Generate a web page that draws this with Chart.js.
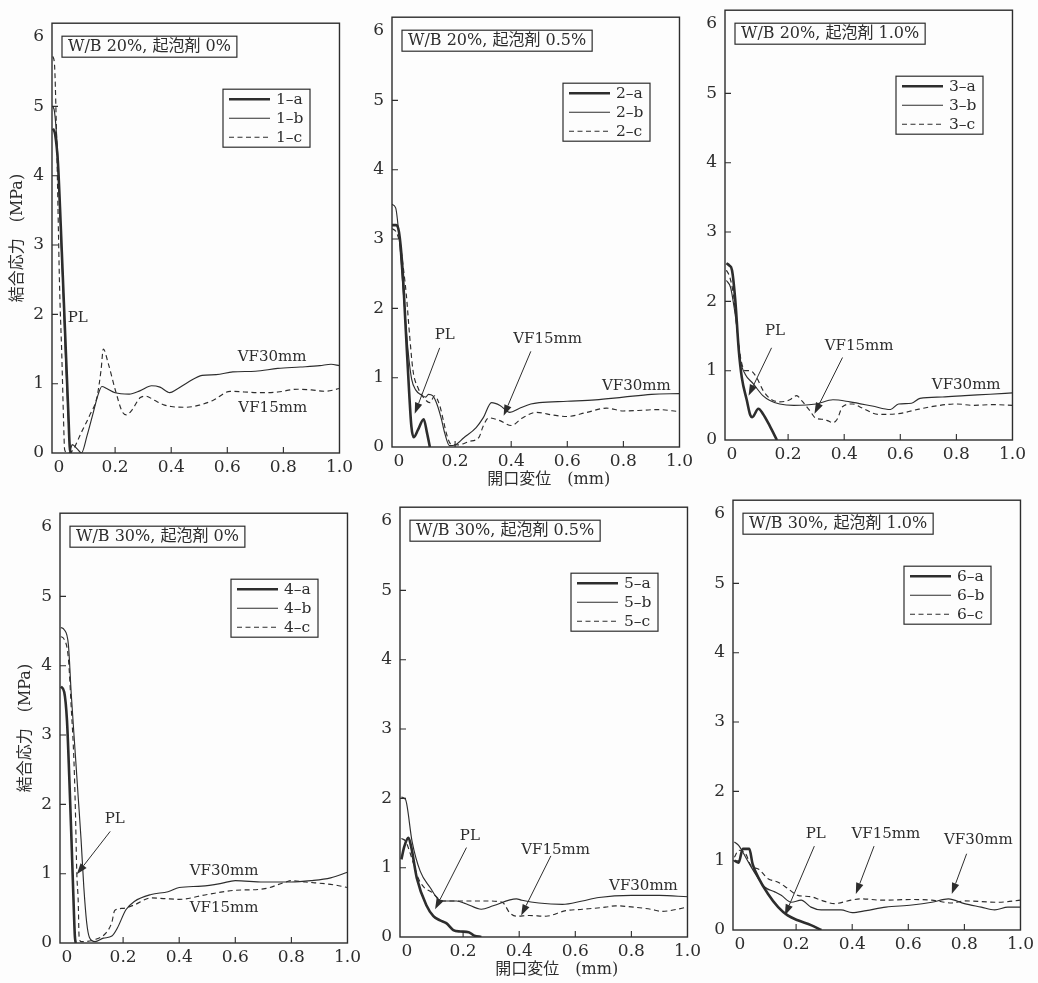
<!DOCTYPE html>
<html>
<head>
<meta charset="utf-8">
<script src="https://cdn.jsdelivr.net/npm/chart.js@4.4.1/dist/chart.umd.min.js"></script>
<style>
  body { margin: 0; background: #fdfdfd; width: 1038px; height: 983px; position: relative; overflow: hidden; }
  canvas { position: absolute; }
</style>
</head>
<body>
<script>
// ---- data ----
const xTicks = [0, 0.2, 0.4, 0.6, 0.8, 1.0];
const xTickLabels = ["0", "0.2", "0.4", "0.6", "0.8", "1.0"];
const yTicks = [0, 1, 2, 3, 4, 5, 6];
const yTickLabels = ["0", "1", "2", "3", "4", "5", "6"];

const yTitle = "結合応力　(MPa)";
const xTitle = "開口変位　(mm)";

const panelTitles = [
    "W/B 20%, 起泡剤 0%",
    "W/B 20%, 起泡剤 0.5%",
    "W/B 20%, 起泡剤 1.0%",
    "W/B 30%, 起泡剤 0%",
    "W/B 30%, 起泡剤 0.5%",
    "W/B 30%, 起泡剤 1.0%"
];

const seriesNames = [
    ["1–a", "1–b", "1–c"],
    ["2–a", "2–b", "2–c"],
    ["3–a", "3–b", "3–c"],
    ["4–a", "4–b", "4–c"],
    ["5–a", "5–b", "5–c"],
    ["6–a", "6–b", "6–c"]
];

// [opening displacement mm, bond stress MPa]
const s1a = [[-0.022,4.68],[-0.014,4.6],[-0.004,4.2],[0.006,3.3],[0.016,2.3],[0.026,1.3],[0.033,0.6],[0.038,0.1],[0.042,0]];
const s1b = [[-0.022,5.0],[-0.016,4.92],[-0.006,4.4],[0.004,3.4],[0.014,2.4],[0.024,1.3],[0.032,0.6],[0.04,0.05],[0.047,0.12],[0.065,0.06],[0.08,0.0],[0.1,0.25],[0.12,0.55],[0.14,0.85],[0.153,0.96],[0.17,0.93],[0.2,0.87],[0.25,0.85],[0.29,0.9],[0.33,0.97],[0.36,0.95],[0.395,0.87],[0.42,0.92],[0.46,1.02],[0.51,1.12],[0.56,1.13],[0.62,1.17],[0.7,1.18],[0.78,1.22],[0.86,1.24],[0.93,1.26],[0.97,1.28],[1.0,1.26]];
const s1c = [[-0.022,5.72],[-0.016,5.6],[-0.01,4.8],[-0.004,3.6],[0.002,2.4],[0.01,1.4],[0.016,0.5],[0.02,0.05],[0.03,0],[0.045,0.02],[0.08,0.3],[0.11,0.55],[0.135,0.8],[0.15,1.2],[0.158,1.5],[0.175,1.3],[0.2,0.92],[0.225,0.6],[0.24,0.55],[0.26,0.62],[0.29,0.8],[0.31,0.82],[0.34,0.76],[0.37,0.7],[0.4,0.67],[0.45,0.66],[0.5,0.69],[0.55,0.76],[0.61,0.89],[0.66,0.88],[0.72,0.87],[0.78,0.88],[0.85,0.92],[0.9,0.91],[0.95,0.89],[1.0,0.93]];

const s2a = [[-0.025,3.2],[-0.01,3.2],[0.0,3.1],[0.012,2.6],[0.024,1.7],[0.036,0.8],[0.044,0.3],[0.052,0.14],[0.068,0.25],[0.088,0.4],[0.1,0.2],[0.11,0]];
const s2b = [[-0.025,3.5],[-0.012,3.45],[0.0,3.05],[0.01,2.5],[0.02,2.0],[0.032,1.4],[0.045,0.98],[0.06,0.82],[0.08,0.75],[0.095,0.72],[0.105,0.76],[0.12,0.74],[0.135,0.62],[0.15,0.42],[0.163,0.2],[0.18,0.02],[0.2,0.03],[0.23,0.13],[0.275,0.28],[0.3,0.42],[0.33,0.64],[0.36,0.6],[0.395,0.5],[0.43,0.56],[0.47,0.62],[0.5,0.64],[0.6,0.66],[0.7,0.68],[0.8,0.72],[0.9,0.76],[1.0,0.77]];
const s2c = [[-0.025,3.15],[-0.01,3.1],[0.005,2.9],[0.015,2.6],[0.026,2.2],[0.038,1.6],[0.05,1.1],[0.068,0.85],[0.09,0.7],[0.11,0.64],[0.127,0.74],[0.145,0.6],[0.16,0.35],[0.17,0.18],[0.185,0.04],[0.21,0.03],[0.25,0.08],[0.285,0.14],[0.3,0.3],[0.32,0.42],[0.36,0.38],[0.4,0.31],[0.44,0.42],[0.49,0.5],[0.55,0.46],[0.6,0.44],[0.67,0.5],[0.74,0.56],[0.8,0.52],[0.87,0.53],[0.92,0.54],[1.0,0.51]];

const s3a = [[-0.02,2.55],[-0.01,2.52],[0.0,2.45],[0.012,2.0],[0.024,1.3],[0.035,0.9],[0.053,0.57],[0.065,0.36],[0.072,0.33],[0.094,0.45],[0.11,0.38],[0.135,0.2],[0.16,0]];
const s3b = [[-0.02,2.3],[-0.005,2.2],[0.008,1.9],[0.018,1.6],[0.03,1.15],[0.047,0.95],[0.076,0.81],[0.11,0.64],[0.135,0.57],[0.17,0.52],[0.22,0.5],[0.3,0.52],[0.36,0.58],[0.42,0.55],[0.5,0.49],[0.565,0.44],[0.594,0.52],[0.64,0.53],[0.67,0.6],[0.75,0.62],[0.83,0.64],[0.92,0.66],[1.0,0.68]];
const s3c = [[-0.02,2.45],[-0.008,2.35],[0.005,2.1],[0.018,1.6],[0.03,1.2],[0.047,1.0],[0.065,1.0],[0.088,0.9],[0.11,0.72],[0.135,0.6],[0.17,0.55],[0.206,0.58],[0.23,0.64],[0.25,0.56],[0.276,0.43],[0.3,0.31],[0.32,0.3],[0.34,0.28],[0.36,0.25],[0.375,0.3],[0.394,0.48],[0.43,0.52],[0.465,0.46],[0.52,0.37],[0.594,0.38],[0.65,0.43],[0.71,0.48],[0.8,0.52],[0.86,0.5],[0.93,0.51],[1.0,0.5]];

const s4a = [[-0.022,3.7],[-0.01,3.62],[0.0,3.2],[0.008,2.4],[0.015,1.6],[0.02,1.0],[0.025,0.4],[0.028,0.1],[0.031,0]];
const s4b = [[-0.022,4.55],[-0.01,4.52],[0.005,4.3],[0.015,3.6],[0.03,2.7],[0.04,2.1],[0.05,1.5],[0.06,0.8],[0.07,0.3],[0.08,0.08],[0.1,0.02],[0.13,0.07],[0.16,0.1],[0.18,0.22],[0.21,0.48],[0.24,0.6],[0.3,0.7],[0.36,0.74],[0.4,0.8],[0.48,0.82],[0.55,0.86],[0.6,0.9],[0.7,0.88],[0.8,0.88],[0.87,0.9],[0.94,0.94],[1.0,1.02]];
const s4c = [[-0.022,4.42],[-0.01,4.38],[0.005,4.1],[0.015,3.4],[0.025,2.6],[0.03,1.9],[0.035,1.0],[0.04,0.6],[0.043,0.1],[0.05,0.02],[0.1,0.05],[0.14,0.15],[0.16,0.3],[0.17,0.47],[0.2,0.5],[0.24,0.55],[0.3,0.65],[0.35,0.64],[0.4,0.63],[0.5,0.7],[0.6,0.76],[0.7,0.78],[0.78,0.88],[0.8,0.9],[0.85,0.88],[0.95,0.84],[1.0,0.8]];

const s5a = [[-0.02,1.12],[-0.01,1.3],[0.005,1.43],[0.015,1.3],[0.035,0.85],[0.07,0.45],[0.094,0.3],[0.118,0.24],[0.14,0.2],[0.165,0.1],[0.19,0.08],[0.22,0.07],[0.24,0.02],[0.265,0]];
const s5b = [[-0.02,2.02],[-0.005,1.98],[0.018,1.38],[0.047,0.95],[0.083,0.71],[0.11,0.55],[0.13,0.52],[0.177,0.52],[0.21,0.48],[0.265,0.4],[0.307,0.45],[0.39,0.55],[0.41,0.53],[0.47,0.49],[0.554,0.47],[0.625,0.52],[0.684,0.57],[0.8,0.6],[0.9,0.6],[1.0,0.58]];
const s5c = [[-0.02,1.42],[-0.005,1.38],[0.02,1.1],[0.04,0.85],[0.06,0.72],[0.09,0.64],[0.11,0.56],[0.13,0.52],[0.2,0.52],[0.28,0.52],[0.34,0.5],[0.366,0.35],[0.39,0.3],[0.436,0.31],[0.495,0.3],[0.566,0.38],[0.625,0.4],[0.707,0.43],[0.743,0.45],[0.81,0.43],[0.87,0.4],[0.908,0.37],[1.0,0.43]];

const s6a = [[-0.02,1.0],[-0.005,0.97],[0.01,1.17],[0.033,1.17],[0.045,0.95],[0.065,0.76],[0.1,0.52],[0.136,0.33],[0.17,0.21],[0.206,0.14],[0.253,0.07],[0.29,0]];
const s6b = [[-0.02,1.27],[-0.005,1.22],[0.02,1.05],[0.047,0.86],[0.088,0.62],[0.124,0.55],[0.147,0.5],[0.183,0.4],[0.218,0.43],[0.253,0.33],[0.289,0.29],[0.36,0.29],[0.4,0.25],[0.45,0.28],[0.52,0.33],[0.613,0.36],[0.684,0.4],[0.743,0.45],[0.8,0.38],[0.86,0.33],[0.908,0.29],[0.955,0.33],[1.0,0.33]];
const s6c = [[-0.02,1.05],[-0.005,1.15],[0.02,1.1],[0.04,0.92],[0.065,0.88],[0.1,0.74],[0.136,0.69],[0.17,0.6],[0.206,0.5],[0.253,0.48],[0.289,0.43],[0.336,0.38],[0.395,0.43],[0.43,0.45],[0.507,0.43],[0.613,0.44],[0.684,0.43],[0.755,0.39],[0.8,0.42],[0.92,0.4],[1.0,0.43]];

const panelSeries = [
    [s1a, s1b, s1c], [s2a, s2b, s2c], [s3a, s3b, s3c],
    [s4a, s4b, s4c], [s5a, s5b, s5c], [s6a, s6b, s6c]
];

// annotation labels (data coords) and arrows (from -> tip)
const panelNotes = [
    [{ text: "PL", at: [0.067, 1.95] },
     { text: "VF30mm", at: [0.76, 1.38] },
     { text: "VF15mm", at: [0.762, 0.65] }],
    [{ text: "PL", at: [0.163, 1.62], from: [0.145, 1.43], to: [0.056, 0.48] },
     { text: "VF15mm", at: [0.53, 1.55], from: [0.47, 1.38], to: [0.373, 0.45] },
     { text: "VF30mm", at: [0.846, 0.88] }],
    [{ text: "PL", at: [0.153, 1.57], from: [0.141, 1.33], to: [0.059, 0.64] },
     { text: "VF15mm", at: [0.453, 1.36], from: [0.394, 1.19], to: [0.294, 0.38] },
     { text: "VF30mm", at: [0.835, 0.79] }],
    [{ text: "PL", at: [0.17, 1.78], from: [0.154, 1.61], to: [0.035, 0.99] },
     { text: "VF30mm", at: [0.56, 1.04] },
     { text: "VF15mm", at: [0.56, 0.5] }],
    [{ text: "PL", at: [0.224, 1.45], from: [0.212, 1.29], to: [0.1, 0.4] },
     { text: "VF15mm", at: [0.53, 1.26], from: [0.513, 1.17], to: [0.407, 0.31] },
     { text: "VF30mm", at: [0.843, 0.74] }],
    [{ text: "PL", at: [0.27, 1.38], from: [0.265, 1.21], to: [0.16, 0.21] },
     { text: "VF15mm", at: [0.52, 1.38], from: [0.478, 1.21], to: [0.413, 0.52] },
     { text: "VF30mm", at: [0.85, 1.3], from: [0.808, 1.1], to: [0.755, 0.52] }]
];

// ---- layout / style ----
const INK = "#2d2d2d";
const SERIF = '"DejaVu Serif", "Noto Sans CJK JP", serif';

// plot frame of each panel on the page
const frames = [
    { l: 52, t: 19, r: 341, b: 453 },
    { l: 392, t: 13, r: 681, b: 447 },
    { l: 725, t: 6, r: 1014, b: 440 },
    { l: 60, t: 509, r: 349, b: 943 },
    { l: 400, t: 503, r: 689, b: 937 },
    { l: 733, t: 496, r: 1022, b: 930 }
];

const lineStyles = [
    { borderWidth: 2.6, borderDash: [] },
    { borderWidth: 1.15, borderDash: [] },
    { borderWidth: 1.15, borderDash: [5, 3.5] }
];

function drawArrow(ctx, x1, y1, x2, y2) {
    const ang = Math.atan2(y2 - y1, x2 - x1);
    const len = 11, half = 3.8;
    const bx = x2 - len * Math.cos(ang), by = y2 - len * Math.sin(ang);
    ctx.beginPath();
    ctx.moveTo(x1, y1);
    ctx.lineTo(bx, by);
    ctx.stroke();
    ctx.beginPath();
    ctx.moveTo(x2, y2);
    ctx.lineTo(bx + half * Math.sin(ang), by - half * Math.cos(ang));
    ctx.lineTo(bx - half * Math.sin(ang), by + half * Math.cos(ang));
    ctx.closePath();
    ctx.fill();
}

function makePanelPlugin(idx) {
    return {
        id: "panel" + idx,
        afterDraw(chart) {
            const { ctx, chartArea: a, scales: { x, y } } = chart;
            ctx.save();
            ctx.strokeStyle = INK;
            ctx.fillStyle = INK;

            // frame
            ctx.lineWidth = 1.4;
            ctx.strokeRect(a.left, a.top, a.right - a.left, a.bottom - a.top);

            // inward ticks
            ctx.lineWidth = 1.1;
            ctx.beginPath();
            xTicks.slice(1, -1).forEach(v => {
                const px = x.getPixelForValue(v);
                ctx.moveTo(px, a.bottom);
                ctx.lineTo(px, a.bottom - 6);
            });
            yTicks.slice(1, -1).forEach(v => {
                const py = y.getPixelForValue(v);
                ctx.moveTo(a.left, py);
                ctx.lineTo(a.left + 6, py);
            });
            ctx.stroke();

            // title box
            ctx.font = "16px " + SERIF;
            ctx.textBaseline = "middle";
            ctx.textAlign = "left";
            const tw = ctx.measureText(panelTitles[idx]).width;
            const bx = a.left + 10, by = a.top + 13;
            ctx.lineWidth = 1.2;
            ctx.strokeRect(bx, by, tw + 12, 21);
            ctx.fillText(panelTitles[idx], bx + 6, by + 11);

            // legend box
            const lx = a.left + 171, ly = a.top + 66;
            ctx.strokeRect(lx, ly, 87, 58);
            ctx.font = "15.5px " + SERIF;
            chart.data.datasets.forEach((ds, i) => {
                const ry = ly + 10 + i * 19;
                ctx.lineWidth = ds.borderWidth;
                ctx.setLineDash(ds.borderDash);
                ctx.beginPath();
                ctx.moveTo(lx + 6, ry);
                ctx.lineTo(lx + 47, ry);
                ctx.stroke();
                ctx.setLineDash([]);
                ctx.fillText(ds.label, lx + 53, ry + 1);
            });

            // annotations
            ctx.lineWidth = 1;
            ctx.textAlign = "center";
            ctx.font = "15px " + SERIF;
            panelNotes[idx].forEach(n => {
                ctx.fillText(n.text, x.getPixelForValue(n.at[0]), y.getPixelForValue(n.at[1]));
                if (n.from) {
                    drawArrow(ctx,
                        x.getPixelForValue(n.from[0]), y.getPixelForValue(n.from[1]),
                        x.getPixelForValue(n.to[0]), y.getPixelForValue(n.to[1]));
                }
            });

            // x axis title (middle column only), sits a little right of centre
            if (idx % 3 === 1) {
                ctx.font = "16px " + SERIF;
                ctx.fillText(xTitle, (a.left + a.right) / 2 + 13, a.bottom + 33);
            }
            ctx.restore();
        }
    };
}

frames.forEach((f, idx) => {
    const col = idx % 3;
    const YW = col === 0 ? 52 : 40;   // y-axis band width
    const XH = col === 1 ? 50 : 32;   // x-axis band height
    const PT = 14, PR = 16;

    const canvas = document.createElement("canvas");
    canvas.width = YW + (f.r - f.l) + PR;
    canvas.height = PT + (f.b - f.t) + XH;
    canvas.style.left = (f.l - YW) + "px";
    canvas.style.top = (f.t - PT) + "px";
    document.body.appendChild(canvas);

    new Chart(canvas.getContext("2d"), {
        type: "line",
        data: {
            datasets: panelSeries[idx].map((pts, i) => ({
                label: seriesNames[idx][i],
                data: pts,
                borderColor: INK,
                borderWidth: lineStyles[i].borderWidth,
                borderDash: lineStyles[i].borderDash,
                pointRadius: 0,
                fill: false,
                cubicInterpolationMode: "monotone"
            }))
        },
        options: {
            responsive: false,
            animation: false,
            layout: { padding: { top: PT, right: PR, left: 0, bottom: 0 } },
            plugins: {
                legend: { display: false },
                tooltip: { enabled: false }
            },
            scales: {
                x: {
                    type: "linear",
                    min: -0.025,
                    max: 1.0,
                    grid: { display: false, drawTicks: false },
                    border: { display: false },
                    afterBuildTicks: s => { s.ticks = xTicks.map(v => ({ value: v })); },
                    afterFit: s => { s.height = XH; },
                    ticks: {
                        padding: 4,
                        color: INK,
                        font: { family: SERIF, size: 17 },
                        maxRotation: 0,
                        callback: (v, i) => xTickLabels[i]
                    }
                },
                y: {
                    type: "linear",
                    min: 0,
                    max: 6.2,
                    grid: { display: false, drawTicks: false },
                    border: { display: false },
                    afterBuildTicks: s => { s.ticks = yTicks.map(v => ({ value: v })); },
                    afterFit: s => { s.width = YW; },
                    ticks: {
                        padding: 8,
                        color: INK,
                        font: { family: SERIF, size: 17 },
                        callback: (v, i) => yTickLabels[i]
                    },
                    title: {
                        display: col === 0,
                        text: yTitle,
                        color: INK,
                        font: { family: SERIF, size: 16 },
                        padding: { top: 8, bottom: 0 }
                    }
                }
            }
        },
        plugins: [makePanelPlugin(idx)]
    });
});
</script>
</body>
</html>
